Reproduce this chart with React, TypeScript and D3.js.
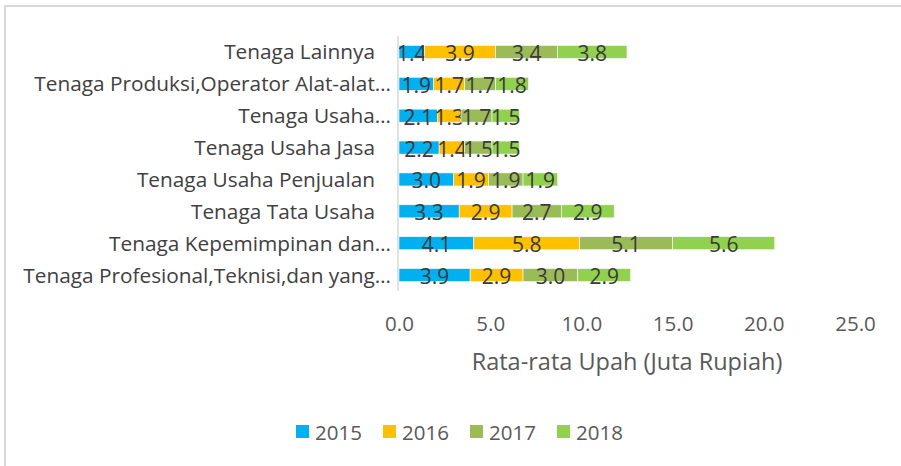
import React, { FC, useEffect, useRef } from "react"
import { axisBottom, scaleBand, scaleLinear, select, stack } from "d3"

// data
const categories = [
  "Tenaga Lainnya",
  "Tenaga Produksi,Operator Alat-alat…",
  "Tenaga Usaha…",
  "Tenaga Usaha Jasa",
  "Tenaga Usaha Penjualan",
  "Tenaga Tata Usaha",
  "Tenaga Kepemimpinan dan…",
  "Tenaga Profesional,Teknisi,dan yang…",
]
const truncated = [false, true, true, false, false, false, true, true]
const years = ["2015", "2016", "2017", "2018"]
const values2015 = [1.4, 1.9, 2.1, 2.2, 3.0, 3.3, 4.1, 3.9]
const values2016 = [3.9, 1.7, 1.3, 1.4, 1.9, 2.9, 5.8, 2.9]
const values2017 = [3.4, 1.7, 1.7, 1.5, 1.9, 2.7, 5.1, 3.0]
const values2018 = [3.8, 1.8, 1.5, 1.5, 1.9, 2.9, 5.6, 2.9]
const xTicks = [0, 5, 10, 15, 20, 25]
const colors = ["#00B0F0", "#FFC000", "#9BBB59", "#92D050"]

type Row = { category: string; [year: string]: number | string }

const rows: Row[] = categories.map((category, i) => ({
  category,
  "2015": values2015[i],
  "2016": values2016[i],
  "2017": values2017[i],
  "2018": values2018[i],
}))

const App: FC = () => {
  const wrapperRef = useRef<SVGSVGElement>(null)

  useEffect(() => {
    document.body.style.margin = "0"
    const svg = select(wrapperRef.current)
    svg.selectAll("*").remove()

    const width = 901
    const height = 466
    const font = "'Open Sans', sans-serif"

    // frame
    svg
      .append("rect")
      .attr("x", 5)
      .attr("y", 6)
      .attr("width", width + 20)
      .attr("height", height + 20)
      .attr("fill", "#fff")
      .attr("stroke", "#D9D9D9")
      .attr("stroke-width", 2)

    // scales
    const xScale = scaleLinear().domain([0, 25]).range([399, 855])
    const yScale = scaleBand<string>()
      .domain(categories)
      .range([36, 291])
      .paddingInner(0.59)
      .paddingOuter(0.295)

    // stacked bars
    const series = stack<Row>().keys(years)(rows)
    const layers = svg
      .append("g")
      .selectAll("g")
      .data(series)
      .join("g")
      .attr("fill", (_, i) => colors[i])

    layers
      .selectAll("rect")
      .data((d) => d)
      .join("rect")
      .attr("x", (d) => xScale(d[0]))
      .attr("y", (d) => yScale(d.data.category as string) ?? 0)
      .attr("width", (d) => xScale(d[1]) - xScale(d[0]))
      .attr("height", yScale.bandwidth())
      .attr("stroke", "#fff")
      .attr("stroke-width", 0.6)

    // data labels
    layers
      .selectAll("text")
      .data((d) => d.map((p) => ({ p, key: d.key })))
      .join("text")
      .attr("x", ({ p }) => (xScale(p[0]) + xScale(p[1])) / 2)
      .attr("y", ({ p }) => (yScale(p.data.category as string) ?? 0) + yScale.bandwidth() / 2 + 9)
      .attr("text-anchor", "middle")
      .attr("fill", "#3a3a3a")
      .style("font", `21px ${font}`)
      .text(({ p, key }) => Number(p.data[key]).toFixed(1))

    // y axis line
    svg
      .append("line")
      .attr("x1", xScale(0) - 1)
      .attr("x2", xScale(0) - 1)
      .attr("y1", 36)
      .attr("y2", 291)
      .attr("stroke", "#D9D9D9")
      .attr("stroke-width", 1.5)

    // category labels
    svg
      .append("g")
      .selectAll("text")
      .data(categories)
      .join("text")
      .attr("x", (_, i) => xScale(0) - (truncated[i] ? 8 : 24))
      .attr("y", (d) => (yScale(d) ?? 0) + yScale.bandwidth() / 2 + 7.5)
      .attr("text-anchor", "end")
      .attr("fill", "#404040")
      .style("font", `20.8px ${font}`)
      .text((d) => d)

    // x axis
    const xAxis = svg
      .append("g")
      .attr("transform", "translate(0, 331)")
      .call(
        axisBottom(xScale)
          .tickValues(xTicks)
          .tickSize(0)
          .tickFormat((d) => Number(d).toFixed(1)),
      )
    xAxis.select(".domain").remove()
    xAxis
      .selectAll("text")
      .attr("y", 0)
      .attr("dy", null)
      .attr("fill", "#595959")
      .style("font", `20.5px ${font}`)

    // axis title
    svg
      .append("text")
      .attr("x", 627)
      .attr("y", 370)
      .attr("text-anchor", "middle")
      .attr("fill", "#595959")
      .style("font", `23.5px ${font}`)
      .text("Rata-rata Upah (Juta Rupiah)")

    // legend
    const legend = svg
      .append("g")
      .selectAll("g")
      .data(years)
      .join("g")
      .attr("transform", (_, i) => `translate(${296 + i * 87}, 425)`)
    legend
      .append("rect")
      .attr("width", 13)
      .attr("height", 13)
      .attr("fill", (_, i) => colors[i])
    legend
      .append("text")
      .attr("x", 19)
      .attr("y", 15)
      .attr("fill", "#595959")
      .style("font", `20.5px ${font}`)
      .text((d) => d)
  }, [])

  return <svg ref={wrapperRef} width={901} height={466} style={{ display: "block" }} />
}

export default App
